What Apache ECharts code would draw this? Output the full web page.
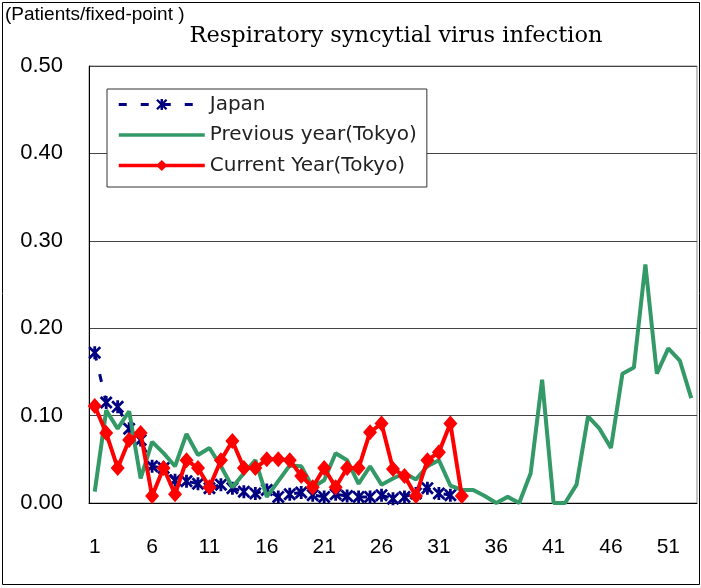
<!DOCTYPE html>
<html>
<head>
<meta charset="utf-8">
<script src="https://cdn.jsdelivr.net/npm/echarts@6/dist/echarts.min.js"></script>
<style>
html, body { margin: 0; padding: 0; background: #fff; }
#main { width: 701px; height: 588px; }
</style>
</head>
<body>
<div id="main"></div>
<script>
// weeks 1..53
var weeks = ['1','2','3','4','5','6','7','8','9','10','11','12','13','14','15','16','17','18','19','20',
  '21','22','23','24','25','26','27','28','29','30','31','32','33','34','35','36','37','38','39','40',
  '41','42','43','44','45','46','47','48','49','50','51','52','53'];

var japan = [0.172, 0.115, 0.110, 0.085, 0.072, 0.042, 0.040, 0.026, 0.025, 0.022,
  0.017, 0.021, 0.017, 0.013, 0.011, 0.015, 0.007, 0.010, 0.012, 0.009,
  0.007, 0.010, 0.008, 0.007, 0.007, 0.009, 0.005, 0.007, 0.011, 0.017,
  0.011, 0.009];

var prevYear = [0.013, 0.106, 0.085, 0.105, 0.028, 0.070, 0.057, 0.042, 0.079, 0.055,
  0.063, 0.042, 0.018, 0.034, 0.049, 0.007, 0.025, 0.043, 0.042, 0.018,
  0.026, 0.057, 0.049, 0.022, 0.042, 0.021, 0.028, 0.034, 0.027, 0.042,
  0.049, 0.020, 0.015, 0.015, 0.008, 0.000, 0.007, 0.000, 0.034, 0.141,
  0.000, 0.000, 0.021, 0.099, 0.085, 0.063, 0.148, 0.155, 0.273, 0.148,
  0.177, 0.163, 0.120];

var curYear = [0.111, 0.080, 0.040, 0.072, 0.080, 0.008, 0.040, 0.010, 0.049, 0.040,
  0.018, 0.049, 0.071, 0.040, 0.040, 0.050, 0.050, 0.049, 0.031, 0.018,
  0.040, 0.018, 0.040, 0.040, 0.081, 0.091, 0.039, 0.031, 0.008, 0.049,
  0.058, 0.091, 0.008];

var seriesNames = ['Japan', 'Previous year(Tokyo)', 'Current Year(Tokyo)'];

// asterisk marker used for Japan
var starPath = 'path://M4.7,0 L7.3,0 L7.3,12 L4.7,12 Z M0,1.8 L1.8,0 L12,10.2 L10.2,12 Z M10.2,0 L12,1.8 L1.8,12 L0,10.2 Z';

var myChart = echarts.init(document.getElementById('main'));

var option = {
  backgroundColor: '#fff',
  animation: false,
  title: {
    text: 'Respiratory syncytial virus infection',
    left: 391,
    textAlign: 'center',
    top: 20,
    textStyle: {
      fontFamily: 'DejaVu Serif',
      fontWeight: 'normal',
      fontSize: 22.5,
      color: '#000'
    }
  },
  legend: {
    orient: 'vertical',
    left: 107,
    top: 89,
    padding: [5, 10, 11, 10],
    itemWidth: 86,
    itemHeight: 14,
    itemGap: 9.5,
    backgroundColor: '#fff',
    borderColor: '#333',
    borderWidth: 1,
    lineStyle: { width: 3.5 },
    textStyle: {
      fontFamily: 'DejaVu Sans',
      fontSize: 20,
      lineHeight: 21,
      color: '#222'
    },
    data: [
      { name: seriesNames[0], lineStyle: { width: 3 } },
      { name: seriesNames[1], itemStyle: { opacity: 0 } },
      { name: seriesNames[2] }
    ]
  },
  grid: {
    left: 89,
    right: 4,
    top: 66,
    bottom: 85,
    show: true,
    borderColor: '#888',
    borderWidth: 1
  },
  xAxis: {
    type: 'category',
    data: weeks,
    boundaryGap: true,
    axisLine: { lineStyle: { color: '#000', width: 1 } },
    axisTick: { inside: true, length: 5, interval: 4, lineStyle: { color: '#000' } },
    axisLabel: {
      interval: 4,
      margin: 34,
      fontFamily: 'Liberation Sans',
      fontSize: 21,
      color: '#000'
    },
    splitLine: { show: false }
  },
  yAxis: {
    type: 'value',
    min: 0,
    max: 0.5,
    interval: 0.1,
    axisLine: { show: true, lineStyle: { color: '#000', width: 1 } },
    axisTick: { show: false },
    axisLabel: {
      margin: 26,
      fontFamily: 'Liberation Sans',
      fontSize: 22,
      color: '#000',
      formatter: function (v) { return v.toFixed(2); }
    },
    splitLine: { show: true, lineStyle: { color: '#444', width: 1 } }
  },
  series: [
    {
      name: seriesNames[0],
      type: 'line',
      data: japan,
      symbol: starPath,
      symbolSize: 13,
      showAllSymbol: true,
      z: 2,
      itemStyle: { color: '#000080' },
      lineStyle: { color: '#000080', width: 3, type: [8, 14] }
    },
    {
      name: seriesNames[1],
      type: 'line',
      data: prevYear,
      symbol: 'none',
      z: 3,
      itemStyle: { color: '#339966' },
      lineStyle: { color: '#339966', width: 4 }
    },
    {
      name: seriesNames[2],
      type: 'line',
      data: curYear,
      symbol: 'diamond',
      symbolSize: [14, 16],
      showAllSymbol: true,
      z: 4,
      itemStyle: { color: '#ff0000' },
      lineStyle: { color: '#ff0000', width: 4 }
    }
  ],
  graphic: [
    {
      type: 'rect',
      shape: { x: 2.5, y: 2.5, width: 697, height: 582 },
      style: { fill: 'none', stroke: '#000', lineWidth: 1 },
      silent: true
    },
    {
      type: 'text',
      left: 5,
      top: 5,
      style: {
        text: '(Patients/fixed-point )',
        fontFamily: 'Liberation Sans',
        fontSize: 19,
        fill: '#000'
      }
    }
  ]
};

myChart.setOption(option);
</script>
</body>
</html>
